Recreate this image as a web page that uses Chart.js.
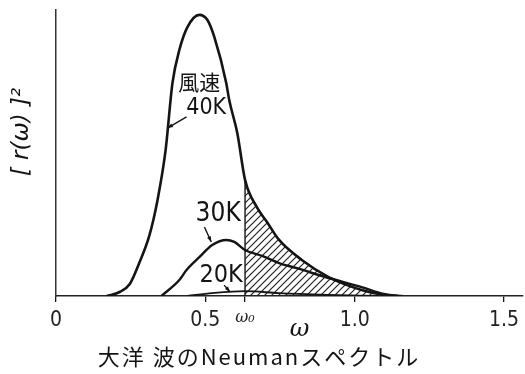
<!DOCTYPE html>
<html><head><meta charset="utf-8">
<script src="https://cdn.jsdelivr.net/npm/chart.js@4"></script>
<style>html,body{margin:0;padding:0;background:#fff}#wrap{width:525px;height:374px;position:relative}</style>
</head><body><div id="wrap"><canvas id="c" width="525" height="374"></canvas></div>
<script>
// ---- data ----
const omega40 = [0.17, 0.213, 0.247, 0.28, 0.313, 0.34, 0.367, 0.39, 0.413, 0.44, 0.48, 0.507, 0.53, 0.57, 0.58, 0.607, 0.633, 0.673, 0.707, 0.747, 0.823, 0.913, 1.023, 1.097, 1.16];
const power40 = [0, 0.014, 0.042, 0.119, 0.213, 0.336, 0.51, 0.745, 0.86, 0.94, 0.983, 0.965, 0.906, 0.745, 0.685, 0.57, 0.406, 0.31, 0.258, 0.196, 0.126, 0.066, 0.021, 0.004, 0];
const omega30 = [0.353, 0.413, 0.437, 0.48, 0.523, 0.57, 0.597, 0.633, 0.69, 0.747, 0.803, 0.913, 1.023, 1.097, 1.147];
const power30 = [0, 0.056, 0.091, 0.136, 0.178, 0.196, 0.189, 0.161, 0.14, 0.115, 0.098, 0.063, 0.031, 0.007, 0];
const omega20 = [0.44, 0.523, 0.633, 0.747, 0.913, 1.08];
const power20 = [0, 0.01, 0.017, 0.01, 0.004, 0];
const omega0 = 0.633;
const xTickValues = [0, 0.5, omega0, 1.0, 1.5];
const xTickLabels = ['0', '0.5', 'ω₀', '1.0', '1.5'];
const xAxisTitle = 'ω';
const yAxisTitle = '[ r(ω) ]²';
const caption = '大洋 波のNeumanスペクトル';
const windLabel = '風速';
const seriesNames = ['40K', '30K', '20K'];
// annotation anchors in data units: [ω, value]
const labelPos = { wind: [0.48, 0.748], k40: [0.503, 0.657], k30: [0.543, 0.287], k20: [0.553, 0.073] };
const arrowPos = { k40: [[0.437, 0.626], [0.373, 0.587]], k30: [[0.497, 0.241], [0.52, 0.189]], k20: [[0.563, 0.038], [0.583, 0.014]] };

const pts = (xs, ys) => xs.map((x, i) => ({ x, y: ys[i] }));
const hatchIdx = omega40.map((x, i) => i).filter(i => omega40[i] >= omega0);
const hatchData = hatchIdx.map(i => ({ x: omega40[i], y: power40[i] }));
const v0 = power40[omega40.indexOf(omega0)];

function hatchPattern() {
  const s = 7, c = document.createElement('canvas'); c.width = c.height = s;
  const g = c.getContext('2d');
  g.strokeStyle = '#222'; g.lineWidth = 1.2; g.lineCap = 'square';
  g.beginPath();
  g.moveTo(-1, s + 1); g.lineTo(s + 1, -1);
  g.moveTo(-1, 1); g.lineTo(1, -1);
  g.moveTo(s - 1, s + 1); g.lineTo(s + 1, s - 1);
  g.stroke();
  return g.createPattern(c, 'repeat');
}

const INK = '#141414';
const tickFont = "'Liberation Sans Narrow','DejaVu Sans Condensed','DejaVu Sans',sans-serif";
const cjkFont = "'Noto Sans CJK JP','Noto Sans CJK SC',sans-serif";

const annot = {
  id: 'annot',
  afterDatasetsDraw(chart) {
    const { ctx, scales: { x, y }, chartArea } = chart;
    const P = (p) => [x.getPixelForValue(p[0]), y.getPixelForValue(p[1])];
    ctx.save();
    ctx.fillStyle = INK; ctx.strokeStyle = INK;
    ctx.textAlign = 'center'; ctx.textBaseline = 'middle';
    ctx.font = "21px " + cjkFont;
    let p = P(labelPos.wind); ctx.fillText(windLabel, p[0], p[1]);
    ctx.font = "23px " + tickFont;
    p = P(labelPos.k40); ctx.fillText(seriesNames[0], p[0], p[1]);
    ctx.font = "26px " + tickFont;
    p = P(labelPos.k30); ctx.fillText(seriesNames[1], p[0], p[1]);
    ctx.font = "25px " + tickFont;
    p = P(labelPos.k20); ctx.fillText(seriesNames[2], p[0], p[1]);
    // arrows
    ctx.lineWidth = 1.4;
    for (const k of ['k40', 'k30', 'k20']) {
      const a = P(arrowPos[k][0]), b = P(arrowPos[k][1]);
      ctx.beginPath(); ctx.moveTo(a[0], a[1]); ctx.lineTo(b[0], b[1]); ctx.stroke();
      const ang = Math.atan2(b[1] - a[1], b[0] - a[0]);
      ctx.beginPath();
      ctx.moveTo(b[0], b[1]);
      ctx.lineTo(b[0] - 6 * Math.cos(ang - 0.35), b[1] - 6 * Math.sin(ang - 0.35));
      ctx.lineTo(b[0] - 6 * Math.cos(ang + 0.35), b[1] - 6 * Math.sin(ang + 0.35));
      ctx.closePath(); ctx.fill();
    }
    // axis title ω
    ctx.font = "italic 24px 'DejaVu Serif','Liberation Serif',serif";
    ctx.fillText(xAxisTitle, (chartArea.left + chartArea.right) / 2 + 10, 330);
    // caption
    ctx.font = "22px " + cjkFont;
    if ('letterSpacing' in ctx) ctx.letterSpacing = '2px';
    ctx.fillText(caption, 259, 357);
    if ('letterSpacing' in ctx) ctx.letterSpacing = '0px';
    // y title
    ctx.translate(22, 132); ctx.rotate(-Math.PI / 2);
    ctx.font = "italic 23px 'Liberation Sans Narrow','DejaVu Sans',sans-serif";
    ctx.fillText(yAxisTitle, 0, 0);
    ctx.restore();
  }
};

new Chart(document.getElementById('c'), {
  type: 'scatter',
  data: {
    datasets: [
      { label: 'hatch', data: hatchData, showLine: true, borderWidth: 0, pointRadius: 0, fill: 'origin', backgroundColor: hatchPattern(), cubicInterpolationMode: 'monotone', order: 5 },
      { label: seriesNames[0], data: pts(omega40, power40), showLine: true, borderColor: INK, borderWidth: 2.6, pointRadius: 0, cubicInterpolationMode: 'monotone', order: 1 },
      { label: seriesNames[1], data: pts(omega30, power30), showLine: true, borderColor: INK, borderWidth: 2.4, pointRadius: 0, cubicInterpolationMode: 'monotone', order: 1 },
      { label: seriesNames[2], data: pts(omega20, power20), showLine: true, borderColor: INK, borderWidth: 1.8, pointRadius: 0, cubicInterpolationMode: 'monotone', order: 1 },
      { label: 'omega0', data: [{ x: omega0, y: 0 }, { x: omega0, y: v0 }], showLine: true, borderColor: INK, borderWidth: 1.4, pointRadius: 0, order: 1 }
    ]
  },
  options: {
    responsive: false, animation: false, devicePixelRatio: 1,
    layout: { padding: { left: 0, right: 0, top: 10, bottom: 0 } },
    plugins: { legend: { display: false }, tooltip: { enabled: false }, title: { display: false } },
    scales: {
      x: {
        type: 'linear', min: 0, max: 469 / 300,
        afterFit: s => { s.height = 78; },
        afterBuildTicks: s => { s.ticks = xTickValues.map(v => ({ value: v })); },
        ticks: {
          autoSkip: false, maxRotation: 0, padding: 6, color: '#222',
          callback: (v, i) => xTickLabels[i],
          font: c => (c.index === 2 ? { family: "'DejaVu Serif',serif", size: 16, style: 'italic' } : { family: tickFont, size: 21 })
        },
        grid: { drawOnChartArea: false, drawTicks: true, tickLength: 6, color: INK, lineWidth: 1.3 },
        border: { display: true, color: '#222', width: 1.6 }
      },
      y: {
        type: 'linear', min: 0, max: 1,
        afterFit: s => { s.width = 56; },
        ticks: { display: false },
        grid: { display: false, drawTicks: false },
        border: { display: true, color: '#333', width: 1.5 }
      }
    }
  },
  plugins: [annot]
});
</script>
</body></html>
